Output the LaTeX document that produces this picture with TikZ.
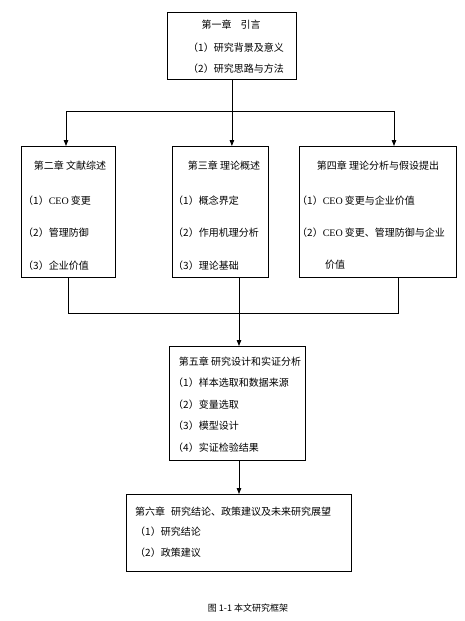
\documentclass[tikz,border=0pt]{standalone}
\usepackage{fontspec}
\setmainfont{Noto Sans CJK SC}
\newfontfamily\latinfont{Liberation Serif}
\newcommand{\ceo}{{\latinfont CEO}}
\usetikzlibrary{arrows.meta}

\begin{document}
\begin{tikzpicture}[x=1pt, y=-1pt,
		chbox/.style={draw, line width=0.8pt, inner sep=0pt, anchor=north west},
		txt/.style={inner sep=0pt, font=\fontsize{10pt}{12pt}\selectfont},
		item/.style={txt, anchor=west},
		conn/.style={line width=0.8pt},
		arr/.style={conn, -{Triangle[length=6pt, width=4.5pt]}}]
	\useasboundingbox (0,0) rectangle (464,621);

	% --- Chapter boxes ---
	\node[chbox, minimum width=129pt, minimum height=67pt] (intro) at (167,12) {};
	\node[chbox, minimum width=94pt, minimum height=131pt] (lit) at (21,146) {};
	\node[chbox, minimum width=96pt, minimum height=131pt] (theo) at (172,146) {};
	\node[chbox, minimum width=157pt, minimum height=131pt] (hyp) at (299,146) {};
	\node[chbox, minimum width=136pt, minimum height=114pt] (design) at (169,346) {};
	\node[chbox, minimum width=225pt, minimum height=77pt] (concl) at (126,494) {};

	% --- Texts ---
	\node[txt] (intro-t) at (231,25) {第一章\hspace{9pt}引言};
	\node[item] (intro-1) at (188,48) {（1）研究背景及意义};
	\node[item] (intro-2) at (188,69) {（2）研究思路与方法};

	\node[txt] (lit-t) at (70,166) {第二章 文献综述};
	\foreach \t [count=\i] in {\ceo{} 变更, 管理防御, 企业价值}
		\node[item] (lit-\i) at (23, 168+32.5*\i) {（\i）\t};

	\node[txt] (theo-t) at (224,166) {第三章 理论概述};
	\foreach \t [count=\i] in {概念界定, 作用机理分析, 理论基础}
		\node[item] (theo-\i) at (173, 168+32.5*\i) {（\i）\t};

	\node[txt] (hyp-t) at (378,166) {第四章 理论分析与假设提出};
	\node[item] (hyp-1) at (297,201) {（1）\ceo{} 变更与企业价值};
	\node[item] (hyp-2) at (297,233) {（2）\ceo{} 变更、管理防御与企业};
	\node[item] (hyp-3) at (325,265) {价值};

	\node[txt] (design-t) at (240,362) {第五章 研究设计和实证分析};
	\foreach \t [count=\i] in {样本选取和数据来源, 变量选取, 模型设计, 实证检验结果}
		\node[item] (design-\i) at (173, 361.5+21.5*\i) {（\i）\t};

	\node[item] (concl-t) at (135,512) {第六章\hspace{6pt}研究结论、政策建议及未来研究展望};
	\node[item] (concl-1) at (135,532) {（1）研究结论};
	\node[item] (concl-2) at (135,553) {（2）政策建议};

	% --- Connectors ---
	\coordinate (split) at (intro.south |- 0,111);
	\coordinate (bl) at (66,111);
	\coordinate (br) at (394,111);
	\draw[conn] (intro.south) -- (split);
	\draw[conn] (bl) -- (br);
	\draw[arr] (bl) -- (bl |- lit.north);
	\draw[arr] (split) -- (split |- theo.north);
	\draw[arr] (br) -- (br |- hyp.north);

	\coordinate (jl) at (68,313);
	\coordinate (jr) at (398,313);
	\coordinate (mid) at (239,313);
	\draw[conn] (jl |- lit.south) -- (jl) -- (jr) -- (jr |- hyp.south);
	\draw[arr] (mid |- theo.south) -- (mid |- design.north);
	\draw[arr] (mid |- design.south) -- (mid |- concl.north);

	% caption
	\node[txt, font=\fontsize{9pt}{11pt}\selectfont] (cap) at (248,608) {图 1-1 本文研究框架};
\end{tikzpicture}
\end{document}
